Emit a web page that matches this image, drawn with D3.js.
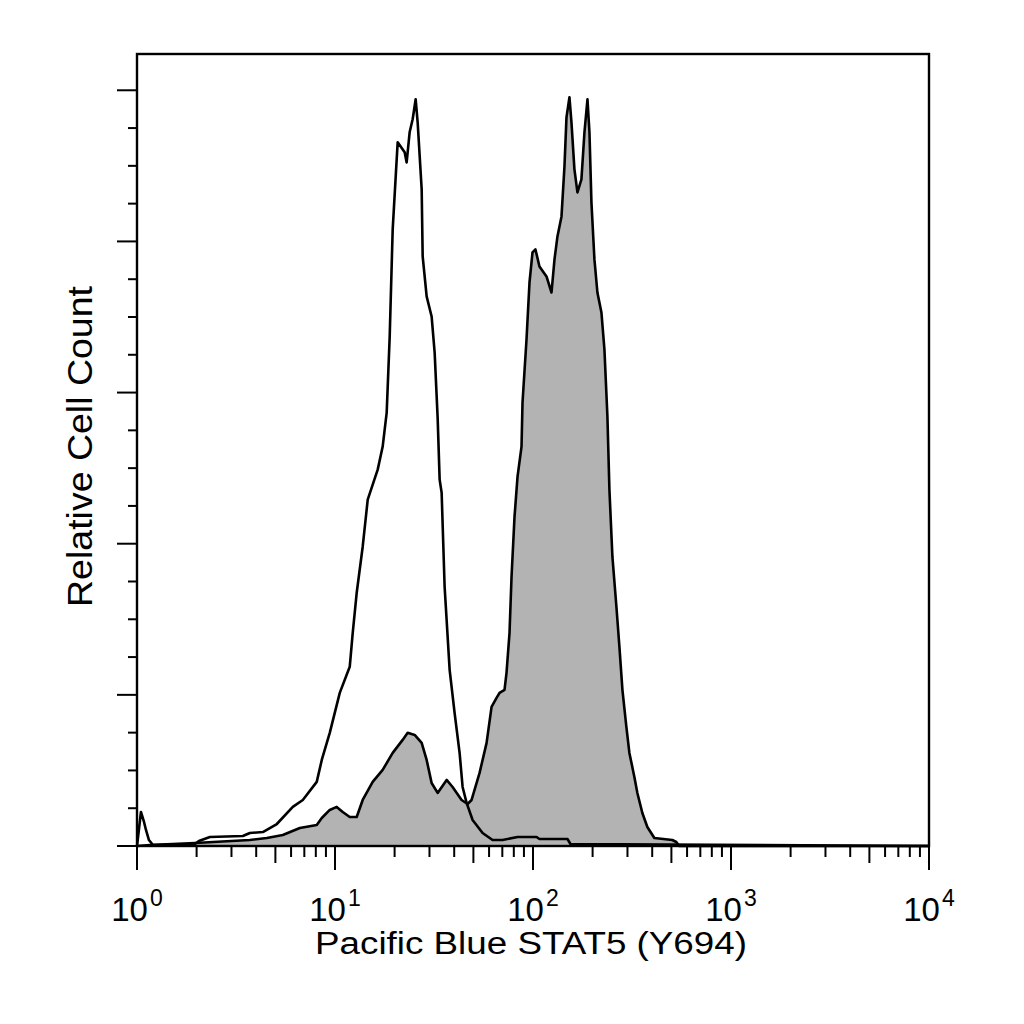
<!DOCTYPE html>
<html lang="en">
<head>
<meta charset="UTF-8">
<title>Pacific Blue STAT5 (Y694) histogram</title>
<script src="https://d3js.org/d3.v7.min.js"></script>
<style>
    body { margin: 0; background: #fff; }
    svg { display: block; font-family: "Liberation Sans", Arial, sans-serif; }
    .axis path, .axis line { stroke: #000; stroke-width: 2; }
</style>
</head>
<body>
<div id="chart"></div>
<script>
// open (control) histogram: fluorescence value, relative count
const openX = [1.00,1.047,1.085,1.110,1.149,1.204,1.962,2.054,2.334,3.425,3.715,4.322,5.084,6.122,6.877,8.087,8.575,9.408,10.57,11.87,12.29,12.87,13.80,14.63,16.43,17.41,18.24,18.89,19.56,20.49,20.73,22.48,23.01,23.82,24.67,25.55,26.15,27.40,27.72,29.03,30.76,31.86,32.99,33.77,34.56,35.78,37.93,40.18,42.59,44.10,46.20,49.54,55.64,62.48,70.19,83.54,104.2,107.8,149.3,154.6,10000];
const openCount = [0,4.50,3.18,2.12,0.79,0.13,0.26,0.66,1.19,1.32,1.72,1.85,2.91,5.17,6.09,8.48,11.39,14.97,20.26,23.71,28.21,33.51,39.60,45.83,49.80,52.85,57.35,67.42,81.59,90.86,93.11,91.79,90.46,94.44,96.16,98.81,95.76,86.89,78.01,72.72,70.07,65.30,56.69,48.48,46.75,34.30,23.31,17.62,12.32,7.81,5.70,3.44,1.72,0.79,0.79,1.19,1.19,0.93,0.93,0.26,0];

// filled (stained) histogram
const stainX = [1.00,1.163,1.962,3.715,4.525,5.450,6.642,8.087,8.575,9.408,10.20,10.94,11.87,12.87,13.80,15.50,17.41,19.56,21.96,23.28,25.26,27.40,29.03,30.76,32.99,36.63,39.26,43.59,46.73,48.96,53.72,58.29,61.76,65.45,67.77,71.80,73.49,76.11,77.91,80.67,83.54,87.50,88.52,92.73,96.01,99.42,102.9,107.8,117.0,124.0,128.4,132.9,139.3,144.2,147.6,152.8,156.4,161.9,167.7,175.6,181.9,188.4,192.8,197.3,204.3,211.5,221.6,229.5,237.6,243.2,251.8,263.8,273.2,282.9,296.2,306.8,325.1,336.6,356.7,378.0,410.2,505.4,529.4,548.2,10000];
const stainCount = [0,0.13,0.40,0.79,1.06,1.46,2.38,2.78,3.71,4.77,5.17,4.50,3.84,3.84,6.09,8.48,10.07,12.32,14.04,14.97,14.70,13.64,11.39,8.34,7.02,8.74,7.81,6.09,5.56,6.09,9.67,13.64,18.41,19.60,20.26,20.66,22.91,28.21,35.63,43.58,48.87,52.85,58.68,67.02,74.57,78.54,78.94,76.69,75.36,73.24,77.62,80.66,83.31,89.93,96.42,99.07,95.76,89.54,86.49,88.21,94.44,98.81,94.44,85.17,77.62,73.24,70.60,65.70,56.82,47.15,38.28,31.66,26.36,20.66,15.76,12.32,9.14,7.02,4.37,2.52,1.06,0.79,0.53,0,0];

// axis ticks
const xDecades = [1, 10, 100, 1000, 10000];
const xExponents = ["0", "1", "2", "3", "4"];
const yMajor = [0, 20, 40, 60, 80, 100];
const yMinor = [5, 10, 15, 25, 30, 35, 45, 50, 55, 65, 70, 75, 85, 90, 95];

const xTitle = "Pacific Blue STAT5 (Y694)";
const yTitle = "Relative Cell Count";

const plotL = 137, plotR = 929, plotT = 54, plotB = 846;

const svg = d3.select("#chart").append("svg")
    .attr("width", 1024)
    .attr("height", 1024);

svg.append("rect")
    .attr("width", 1024).attr("height", 1024).attr("fill", "#fff");

const x = d3.scaleLog().domain([1, 10000]).range([plotL, plotR]);
const y = d3.scaleLinear().domain([0, 104.8]).range([plotB, plotT]);

const stain = stainX.map((v, i) => ({v: v, c: stainCount[i]}));
const open = openX.map((v, i) => ({v: v, c: openCount[i]}));

// filled histogram
svg.append("path")
    .datum(stain)
    .attr("fill", "#b3b3b3")
    .attr("d", d3.area().x(d => x(d.v)).y0(y(0)).y1(d => y(d.c)));

svg.append("path")
    .datum(stain)
    .attr("fill", "none")
    .attr("stroke", "#000")
    .attr("stroke-width", 2.6)
    .attr("stroke-linejoin", "round")
    .attr("d", d3.line().x(d => x(d.v)).y(d => y(d.c)));

// open histogram on top
svg.append("path")
    .datum(open)
    .attr("fill", "none")
    .attr("stroke", "#000")
    .attr("stroke-width", 2.6)
    .attr("stroke-linejoin", "round")
    .attr("d", d3.line().x(d => x(d.v)).y(d => y(d.c)));

// frame
svg.append("rect")
    .attr("x", plotL).attr("y", plotT)
    .attr("width", plotR - plotL).attr("height", plotB - plotT)
    .attr("fill", "none")
    .attr("stroke", "#000")
    .attr("stroke-width", 2.4);

// x axis: decades long, 5s medium, rest short
const minors = [];
xDecades.slice(0, -1).forEach(d => {
    for (let k = 2; k <= 9; k++) minors.push(d * k);
});
const isFive = v => String(v)[0] === "5";

svg.append("g").attr("class", "axis")
    .attr("transform", `translate(0,${plotB})`)
    .call(d3.axisBottom(x).tickValues(minors.filter(v => !isFive(v))).tickSize(11).tickSizeOuter(0).tickFormat("").offset(0));
svg.append("g").attr("class", "axis")
    .attr("transform", `translate(0,${plotB})`)
    .call(d3.axisBottom(x).tickValues(minors.filter(isFive)).tickSize(17).tickSizeOuter(0).tickFormat("").offset(0));
svg.append("g").attr("class", "axis")
    .attr("transform", `translate(0,${plotB})`)
    .call(d3.axisBottom(x).tickValues(xDecades).tickSize(24).tickSizeOuter(0).tickFormat("").offset(0));

// y axis
svg.append("g").attr("class", "axis")
    .attr("transform", `translate(${plotL},0)`)
    .call(d3.axisLeft(y).tickValues(yMinor).tickSize(9).tickSizeOuter(0).tickFormat("").offset(0));
svg.append("g").attr("class", "axis")
    .attr("transform", `translate(${plotL},0)`)
    .call(d3.axisLeft(y).tickValues(yMajor).tickSize(20).tickSizeOuter(0).tickFormat("").offset(0));

// decade labels 10^n
const lbl = svg.append("g").selectAll("text")
    .data(xDecades)
    .enter().append("text")
    .attr("x", d => x(d))
    .attr("y", 921)
    .attr("text-anchor", "middle")
    .attr("font-size", 33)
    .attr("fill", "#000");
lbl.append("tspan").text("10");
lbl.append("tspan")
    .attr("font-size", 23)
    .attr("dx", 2)
    .attr("dy", -15)
    .text((d, i) => xExponents[i]);

// axis titles
svg.append("text")
    .attr("x", 315)
    .attr("y", 954)
    .attr("font-size", 31)
    .attr("textLength", 432)
    .attr("lengthAdjust", "spacingAndGlyphs")
    .attr("fill", "#000")
    .text(xTitle);

svg.append("text")
    .attr("transform", "translate(92,607) rotate(-90)")
    .attr("font-size", 35)
    .attr("textLength", 321)
    .attr("lengthAdjust", "spacingAndGlyphs")
    .attr("fill", "#000")
    .text(yTitle);
</script>
</body>
</html>
